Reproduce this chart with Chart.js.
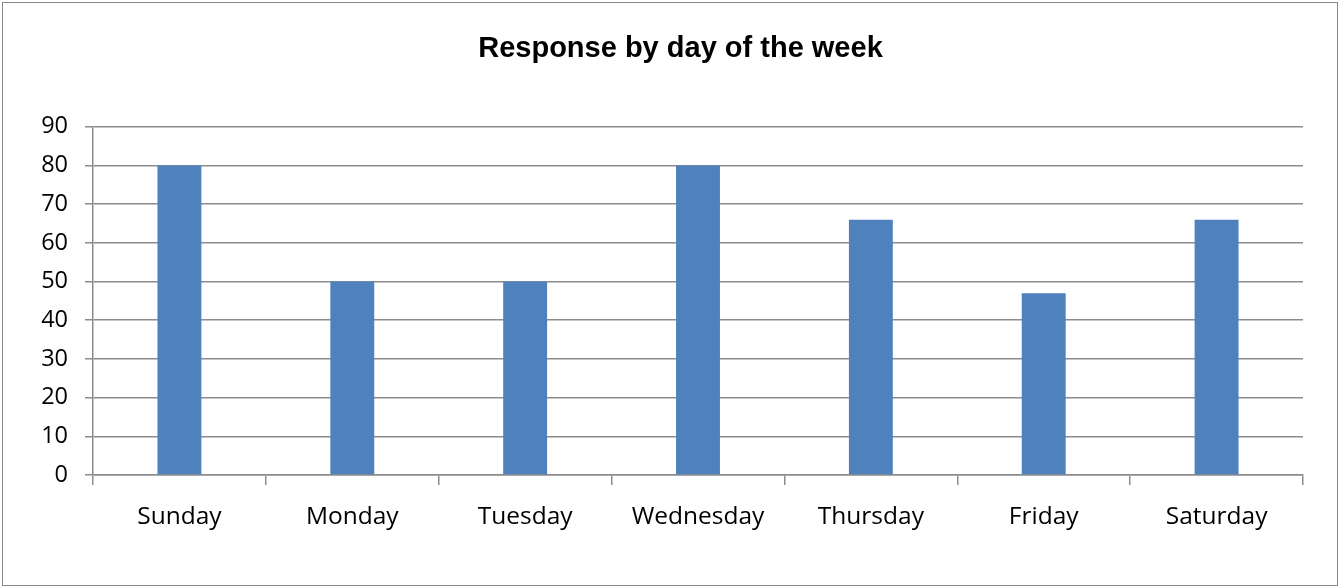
<!DOCTYPE html>
<html>
<head>
<meta charset="utf-8">
<script src="https://cdn.jsdelivr.net/npm/chart.js@4"></script>
<style>
    body { margin: 0; background: #fff; }
    #wrap { position: relative; width: 1342px; height: 588px; }
    #frame { position: absolute; left: 2px; top: 2px; width: 1334px; height: 582px; border: 1px solid #8a8a8a; }
    canvas { position: absolute; left: 0; top: 0; }
</style>
</head>
<body>
<div id="wrap">
    <div id="frame"></div>
    <canvas id="dayChart" width="1342" height="588"></canvas>
</div>
<script>
// chart data
const days = ['Sunday', 'Monday', 'Tuesday', 'Wednesday', 'Thursday', 'Friday', 'Saturday'];
const responses = [80, 50, 50, 80, 66, 47, 66];
const yTicks = [0, 10, 20, 30, 40, 50, 60, 70, 80, 90];

const gridColor = '#8c8c8c';

// nudge the title a bit to the right, the original isn't centred on the canvas
const titleShift = {
    id: 'titleShift',
    afterLayout(chart) {
        chart.titleBlock.left += 29;
        chart.titleBlock.right += 29;
    }
};

document.addEventListener('DOMContentLoaded', function() {
    const ctx = document.getElementById('dayChart').getContext('2d');
    new Chart(ctx, {
        type: 'bar',
        data: {
            labels: days,
            datasets: [{
                label: 'Response',
                data: responses,
                backgroundColor: '#4f81bd',
                borderWidth: 0,
                barPercentage: 0.254,
                categoryPercentage: 1
            }]
        },
        options: {
            responsive: false,
            animation: false,
            devicePixelRatio: 1,
            layout: { padding: { left: 0, right: 39, top: 0, bottom: 0 } },
            plugins: {
                legend: { display: false },
                tooltip: { enabled: false },
                title: {
                    display: true,
                    text: 'Response by day of the week',
                    color: '#000',
                    font: { family: '"Liberation Sans", Arial, sans-serif', size: 29, weight: 'bold' },
                    padding: { top: 32, bottom: 60 }
                }
            },
            scales: {
                x: {
                    grid: {
                        offset: true,
                        drawOnChartArea: false,
                        drawTicks: true,
                        tickLength: 10,
                        color: gridColor,
                        lineWidth: 1.5
                    },
                    border: { color: gridColor, width: 1.5 },
                    ticks: {
                        color: '#000',
                        padding: 17,
                        font: { family: '"Open Sans", sans-serif', size: 24.5 }
                    },
                    afterFit: function(scale) { scale.height = 113; }
                },
                y: {
                    min: 0,
                    max: 90,
                    afterBuildTicks: function(scale) {
                        scale.ticks = yTicks.map(v => ({ value: v }));
                    },
                    grid: {
                        color: gridColor,
                        lineWidth: 1.5,
                        tickLength: 8
                    },
                    border: { color: gridColor, width: 1.5 },
                    ticks: {
                        color: '#000',
                        padding: 17,
                        font: { family: '"Open Sans", sans-serif', size: 23.5 }
                    },
                    afterFit: function(scale) { scale.width = 93; }
                }
            }
        },
        plugins: [titleShift]
    });
});
</script>
</body>
</html>
